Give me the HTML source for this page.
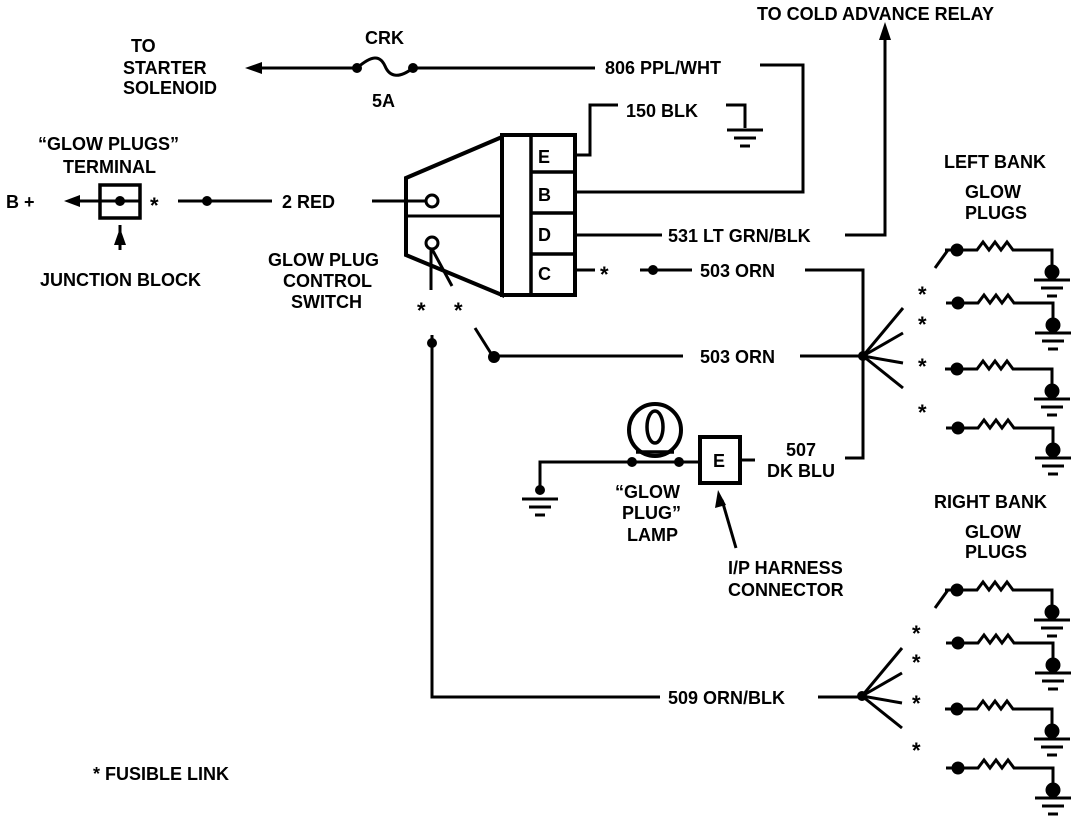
<!DOCTYPE html>
<html><head><style>
body{margin:0;background:#fff}
svg{display:block}
text{font-family:"Liberation Sans",sans-serif;font-weight:bold;font-size:18px;fill:#000}
text.a{font-size:22px}
</style></head><body>
<svg width="1088" height="828" viewBox="0 0 1088 828" xmlns="http://www.w3.org/2000/svg">
<defs>
<g id="plug" stroke="#000" stroke-width="3" fill="none">
<line x1="-12" y1="0" x2="0" y2="0"/>
<circle cx="0" cy="0" r="5" fill="#000"/>
<polyline points="0,0 20,0 26,-8 32,0 38,-8 44,0 50,-8 56,0 95,0 95,22"/>
<circle cx="95" cy="22" r="6" fill="#000"/>
<line x1="77" y1="30" x2="113" y2="30" stroke-width="3"/>
<line x1="84" y1="38" x2="106" y2="38" stroke-width="3"/>
<line x1="90" y1="46" x2="100" y2="46" stroke-width="3"/>
</g>
<g id="gnd" stroke="#000" stroke-width="3">
<line x1="-18" y1="0" x2="18" y2="0"/><line x1="-11" y1="8" x2="11" y2="8"/><line x1="-5" y1="16" x2="5" y2="16"/>
</g>
</defs>
<g stroke="#000" stroke-width="3" fill="none">
<line x1="250" y1="68" x2="357" y2="68"/>
<path d="M357,68 C372,55 380,55 385,66 C390,78 400,78 413,68"/>
<line x1="413" y1="68" x2="595" y2="68"/>
<polyline points="760,65 803,65 803,192 575,192"/>
<polyline points="575,155 590,155 590,105 618,105"/>
<polyline points="726,105 745,105 745,128"/>
<line x1="575" y1="235" x2="662" y2="235"/>
<polyline points="845,235 885,235 885,38"/>
<line x1="575" y1="270" x2="595" y2="270"/>
<line x1="640" y1="270" x2="692" y2="270"/>
<polyline points="805,270 863,270 863,458 845,458"/>
<line x1="70" y1="201" x2="140" y2="201"/>
<line x1="178" y1="201" x2="272" y2="201"/>
<line x1="372" y1="201" x2="426" y2="201"/>
<rect x="100" y="185" width="40" height="33" stroke-width="3.5"/>
<line x1="120" y1="225" x2="120" y2="250"/>
<polygon points="502,137 406,178 406,255 502,295" stroke-width="4"/>
<line x1="406" y1="216" x2="502" y2="216" stroke-width="3"/>
<rect x="502" y="135" width="73" height="160" stroke-width="4"/>
<line x1="531" y1="135" x2="531" y2="295" stroke-width="3.5"/>
<line x1="531" y1="172" x2="575" y2="172" stroke-width="3.5"/>
<line x1="531" y1="213" x2="575" y2="213" stroke-width="3.5"/>
<line x1="531" y1="254" x2="575" y2="254" stroke-width="3.5"/>
<circle cx="432" cy="201" r="6"/>
<circle cx="432" cy="243" r="6"/>
<line x1="431" y1="249" x2="431" y2="290"/>
<line x1="432" y1="249" x2="452" y2="286"/>
<polyline points="432,335 432,697 660,697"/>
<line x1="475" y1="328" x2="492" y2="355"/>
<line x1="494" y1="356" x2="683" y2="356"/>
<line x1="800" y1="356" x2="863" y2="356"/>
<line x1="818" y1="697" x2="862" y2="697"/>
<g>
<line x1="863" y1="356" x2="903" y2="308"/><line x1="863" y1="356" x2="903" y2="333"/>
<line x1="863" y1="356" x2="903" y2="363"/><line x1="863" y1="356" x2="903" y2="388"/>
<line x1="862" y1="696" x2="902" y2="648"/><line x1="862" y1="696" x2="902" y2="673"/>
<line x1="862" y1="696" x2="902" y2="703"/><line x1="862" y1="696" x2="902" y2="728"/>
</g>
<line x1="935" y1="268" x2="948" y2="250"/>
<line x1="935" y1="608" x2="948" y2="590"/>
<circle cx="655" cy="430" r="26" stroke-width="4"/>
<ellipse cx="655" cy="427" rx="8" ry="16" stroke-width="3.5"/>
<line x1="636" y1="452" x2="674" y2="452" stroke-width="3.5"/>
<polyline points="540,490 540,462 700,462"/>
<rect x="700" y="437" width="40" height="46" stroke-width="4"/>
<line x1="740" y1="460" x2="755" y2="460"/>
<line x1="736" y1="548" x2="722" y2="500"/>
</g>
<g fill="#000">
<circle cx="357" cy="68" r="5"/><circle cx="413" cy="68" r="5"/>
<circle cx="207" cy="201" r="5"/><circle cx="120" cy="201" r="5"/>
<circle cx="653" cy="270" r="5"/><circle cx="432" cy="343" r="5"/><circle cx="494" cy="357" r="6"/>
<circle cx="863" cy="356" r="5"/><circle cx="862" cy="696" r="5"/>
<circle cx="632" cy="462" r="5"/><circle cx="679" cy="462" r="5"/>
<circle cx="540" cy="490" r="5"/>
<polygon points="245,68 262,62 262,74"/>
<polygon points="64,201 80,195 80,207"/>
<polygon points="885,22 879,40 891,40"/>
<polygon points="120,228 114,245 126,245"/>
<polygon points="718,490 715,508 726,505"/>
</g>
<use href="#gnd" x="745" y="130"/>
<use href="#gnd" x="540" y="499"/>
<use href="#plug" x="957" y="250"/><use href="#plug" x="958" y="303"/>
<use href="#plug" x="957" y="369"/><use href="#plug" x="958" y="428"/>
<use href="#plug" x="957" y="590"/><use href="#plug" x="958" y="643"/>
<use href="#plug" x="957" y="709"/><use href="#plug" x="958" y="768"/>
<text x="131" y="52">TO</text>
<text x="123" y="74">STARTER</text>
<text x="123" y="94">SOLENOID</text>
<text x="365" y="44">CRK</text>
<text x="372" y="107">5A</text>
<text x="605" y="74">806 PPL/WHT</text>
<text x="757" y="20">TO COLD ADVANCE RELAY</text>
<text x="626" y="117">150 BLK</text>
<text x="38" y="150">“GLOW PLUGS”</text>
<text x="63" y="173">TERMINAL</text>
<text x="6" y="208">B +</text>
<text class="a" x="150" y="213">*</text>
<text x="282" y="208">2 RED</text>
<text x="40" y="286">JUNCTION BLOCK</text>
<text x="268" y="266">GLOW PLUG</text>
<text x="283" y="287">CONTROL</text>
<text x="291" y="308">SWITCH</text>
<text x="538" y="163">E</text>
<text x="538" y="201">B</text>
<text x="538" y="241">D</text>
<text x="538" y="280">C</text>
<text x="668" y="242">531 LT GRN/BLK</text>
<text class="a" x="600" y="282">*</text>
<text x="700" y="277">503  ORN</text>
<text class="a" x="417" y="318">*</text>
<text class="a" x="454" y="318">*</text>
<text x="700" y="363">503  ORN</text>
<text x="713" y="467">E</text>
<text x="786" y="456">507</text>
<text x="767" y="477">DK BLU</text>
<text x="615" y="498">“GLOW</text>
<text x="622" y="519">PLUG”</text>
<text x="627" y="541">LAMP</text>
<text x="728" y="574">I/P HARNESS</text>
<text x="728" y="596">CONNECTOR</text>
<text x="668" y="704">509 ORN/BLK</text>
<text x="944" y="168">LEFT BANK</text>
<text x="965" y="198">GLOW</text>
<text x="965" y="219">PLUGS</text>
<text x="934" y="508">RIGHT BANK</text>
<text x="965" y="538">GLOW</text>
<text x="965" y="558">PLUGS</text>
<text class="a" x="918" y="302">*</text><text class="a" x="918" y="332">*</text><text class="a" x="918" y="374">*</text><text class="a" x="918" y="420">*</text>
<text class="a" x="912" y="641">*</text><text class="a" x="912" y="670">*</text><text class="a" x="912" y="711">*</text><text class="a" x="912" y="758">*</text>
<text x="93" y="780">* FUSIBLE LINK</text>
</svg>
</body></html>
